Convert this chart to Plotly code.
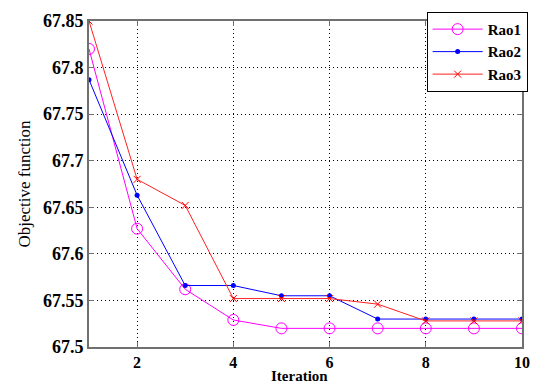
import plotly.graph_objects as go

iterations = [1, 2, 3, 4, 5, 6, 7, 8, 9, 10]
rao1 = [67.820, 67.627, 67.562, 67.529, 67.520, 67.520, 67.520, 67.520, 67.520, 67.520]
rao2 = [67.787, 67.663, 67.566, 67.566, 67.555, 67.555, 67.530, 67.530, 67.530, 67.530]
rao3 = [67.850, 67.680, 67.652, 67.552, 67.552, 67.552, 67.546, 67.528, 67.528, 67.528]

y_ticks = [67.5, 67.55, 67.6, 67.65, 67.7, 67.75, 67.8, 67.85]
y_tick_labels = ["67.5", "67.55", "67.6", "67.65", "67.7", "67.75", "67.8", "67.85"]
x_ticks = [2, 4, 6, 8, 10]

font_family = "Liberation Serif, Times New Roman, serif"

fig = go.Figure()
fig.add_trace(go.Scatter(x=iterations, y=rao1, name="Rao1", mode="lines+markers",
                         line=dict(color="#ff00ff", width=1),
                         marker=dict(symbol="circle-open", size=11, color="#ff00ff", line=dict(width=1))))
fig.add_trace(go.Scatter(x=iterations, y=rao2, name="Rao2", mode="lines+markers",
                         line=dict(color="#0000ff", width=1),
                         marker=dict(symbol="circle", size=5, color="#0000ff")))
fig.add_trace(go.Scatter(x=iterations, y=rao3, name="Rao3", mode="lines+markers",
                         line=dict(color="#ff2020", width=1),
                         marker=dict(symbol="x-thin-open", size=7, color="#ff0000", line=dict(width=1, color="#ff0000"))))

axis_common = dict(showline=True, mirror="ticks", linecolor="#707070", linewidth=2,
                   ticks="inside", ticklen=5, tickcolor="#707070",
                   showgrid=True, gridcolor="#000000", griddash="1px,3px", gridwidth=1,
                   zeroline=False)

fig.update_xaxes(range=[1, 10], tickvals=x_ticks,
                 tickfont=dict(family=font_family, size=16, color="black", weight=700),
                 **axis_common)
fig.update_yaxes(range=[67.5, 67.85], tickvals=y_ticks, ticktext=y_tick_labels,
                 tickfont=dict(family=font_family, size=18, color="black", weight=700),
                 title=dict(text="Objective function", font=dict(family=font_family, size=17, color="black"), standoff=8),
                 **axis_common)

fig.add_annotation(text="<b>Iteration</b>", xref="paper", yref="paper", x=0.485, y=-0.089,
                   xanchor="center", yanchor="middle", showarrow=False,
                   font=dict(family=font_family, size=15, color="black"))

fig.update_layout(
    width=541, height=383,
    margin=dict(l=89, r=11, t=13, b=36),
    plot_bgcolor="white", paper_bgcolor="white",
    font=dict(family=font_family, color="black"),
    legend=dict(x=1.013, y=1.028, xanchor="right", yanchor="top",
                bgcolor="white", bordercolor="#000000", borderwidth=1,
                font=dict(family=font_family, size=15, color="black", weight="bold"),
                tracegroupgap=0, itemwidth=50),
    showlegend=True,
)

fig.write_html("out.html", config={"displayModeBar": False},
               post_script="document.body.style.margin='0';document.body.style.overflow='hidden';")
